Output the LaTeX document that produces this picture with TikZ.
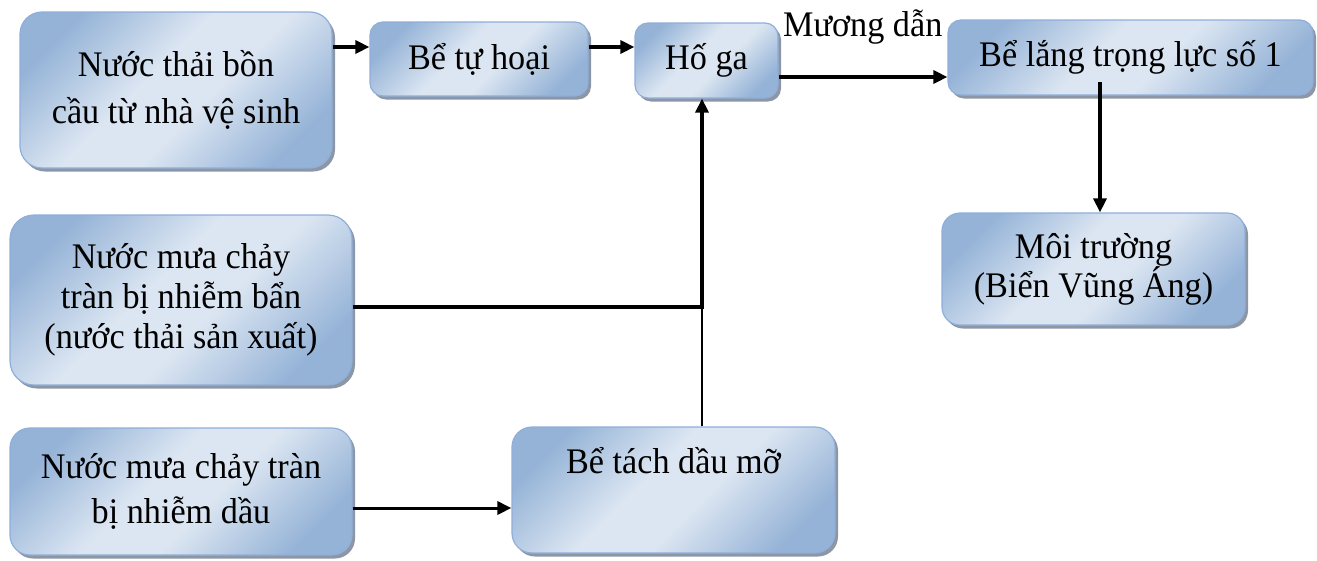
\documentclass[tikz,border=0pt]{standalone}
\usepackage{fontspec}
\setmainfont[FakeStretch=0.95]{Liberation Serif}
\usetikzlibrary{arrows.meta,shadows,calc}
\definecolor{bdark}{HTML}{95B3D7}
\definecolor{blight}{HTML}{DCE6F2}
\definecolor{bordercol}{HTML}{8FAEDA}
\definecolor{shadowcol}{HTML}{8C96A5}
\pgfdeclarehorizontalshading{boxshade}{100bp}{color(0bp)=(bdark); color(24bp)=(bdark); color(44bp)=(blight); color(56bp)=(blight); color(76bp)=(bdark); color(100bp)=(bdark)}
\tikzset{
  x=1pt, y=1pt,
  box/.style={draw=bordercol, line width=1.2pt, shading=boxshade, shading angle=-45,
    drop shadow={shadow xshift=3pt, shadow yshift=-3.5pt, fill=shadowcol, opacity=1},
    inner sep=0pt, align=center, text=black},
  fs/.style={font=\fontsize{36}{#1}\selectfont},
  arr/.style={line width=3.3pt, -{Triangle[length=14pt,width=13pt]}},
  arrm/.style={line width=3pt, -{Triangle[length=14pt,width=13pt]}},
  thinline/.style={line width=1.2pt},
  lbl/.style={font=\fontsize{36}{38}\selectfont, inner sep=0pt, anchor=base west}
}
\begin{document}
\begin{tikzpicture}
\useasboundingbox (0,0) rectangle (1317,-560);
% boxes
\node[box, fs=47, rounded corners=22pt, minimum width=312pt, minimum height=156pt] (A) at (176,-90)
  {Nước thải bồn\\cầu từ nhà vệ sinh};
\node[box, fs=40, rounded corners=13pt, minimum width=218pt, minimum height=74pt] (B) at (479,-59)
  {Bể tự hoại};
\node[box, fs=40, rounded corners=13pt, minimum width=143pt, minimum height=75pt] (C) at (706.5,-60.5)
  {Hố ga};
\node[box, fs=40, rounded corners=13pt, minimum width=365pt, minimum height=75pt] (D) at (1130.5,-57.5)
  {Bể lắng trọng lực số 1};
\node[box, fs=39, rounded corners=18pt, minimum width=303pt, minimum height=112pt] (E) at (1093.5,-269)
  {Môi trường\\(Biển Vũng Áng)};
\node[box, fs=40, rounded corners=24pt, minimum width=342pt, minimum height=170pt] (F) at (181,-300)
  {Nước mưa chảy\\tràn bị nhiễm bẩn\\(nước thải sản xuất)};
\node[box, fs=45, rounded corners=20pt, minimum width=342pt, minimum height=127pt] (G) at (181,-491.5)
  {Nước mưa chảy tràn\\bị nhiễm dầu};
\node[box, fs=45, rounded corners=20pt, minimum width=323pt, minimum height=126pt] (H) at (673.5,-490)
  {Bể tách dầu mỡ\\\strut};
\node[lbl] (M) at (783,-36) {Mương dẫn};
% helper coordinates
\coordinate (yab) at (0,-47);
\coordinate (ycd) at (0,-77);
\coordinate (ygh) at (0,-508);
\coordinate (jn) at (702,-307);
\coordinate (dstart) at (1100,-82);
% connectors
\draw[arr] (A.east |- yab) -- (B.west |- yab);
\draw[arr] (B.east |- yab) -- (C.west |- yab);
\draw[arr] (C.east |- ycd) -- (D.west |- ycd);
\draw[arr] (dstart) -- (dstart |- E.north);
\draw[arr] (F.east |- jn) -- (jn) -- (jn |- C.south);
\draw[thinline] (H.north -| jn) -- (jn);
\draw[arrm] (G.east |- ygh) -- (H.west |- ygh);
\end{tikzpicture}
\end{document}
